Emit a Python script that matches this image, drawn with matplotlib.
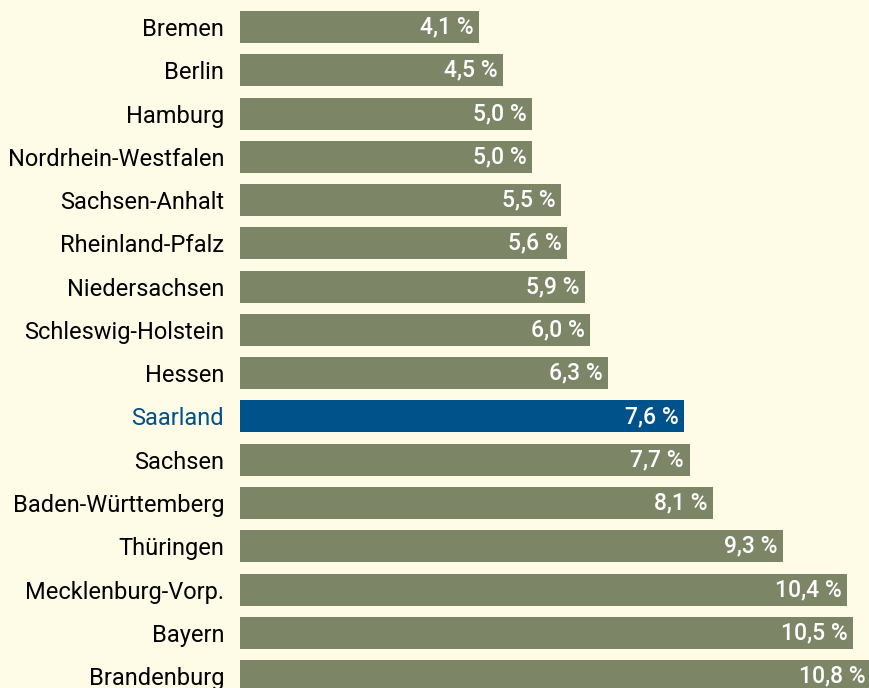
import matplotlib.pyplot as plt
import matplotlib.font_manager as fm

# Arbeitslosenquote nach Bundesland
laender = ["Bremen", "Berlin", "Hamburg", "Nordrhein-Westfalen", "Sachsen-Anhalt",
           "Rheinland-Pfalz", "Niedersachsen", "Schleswig-Holstein", "Hessen",
           "Saarland", "Sachsen", "Baden-Württemberg", "Thüringen",
           "Mecklenburg-Vorp.", "Bayern", "Brandenburg"]
werte = [4.1, 4.5, 5.0, 5.0, 5.5, 5.6, 5.9, 6.0, 6.3, 7.6, 7.7, 8.1, 9.3, 10.4, 10.5, 10.8]
hervorgehoben = "Saarland"

hintergrund = "#fefbe6"
gruen = "#7c8565"
blau = "#00528a"

plt.rcParams['font.family'] = ['Roboto', 'DejaVu Sans']

W, H = 869, 688
fig = plt.figure(figsize=(W / 100, H / 100), dpi=100, facecolor=hintergrund)
ax = fig.add_axes([240 / W, 0, 1 - 240 / W, 1])
ax.set_facecolor(hintergrund)

farben = [blau if l == hervorgehoben else gruen for l in laender]
y = list(range(len(laender)))
ax.barh(y, werte, height=0.74, color=farben)

for i, v in enumerate(werte):
    ax.annotate(f"{v:.1f} %".replace(".", ","), (v, i), xytext=(-4, 0),
                textcoords="offset points", ha="right", va="center",
                color="white", fontsize=16.5, fontweight="medium",
                annotation_clip=False)

ax.set_xlim(0, (W - 240) / 58.4)
ax.set_ylim((H - 27) / 43.27, -27 / 43.27)
ax.set_yticks(y)
ax.set_yticklabels(laender, fontsize=17)
ax.tick_params(axis="y", length=0, pad=11.5)
for lbl in ax.get_yticklabels():
    if lbl.get_text() == hervorgehoben:
        lbl.set_color(blau)
ax.set_xticks([])
for s in ax.spines.values():
    s.set_visible(False)

fig.savefig("out.png", dpi=100, facecolor=hintergrund)
